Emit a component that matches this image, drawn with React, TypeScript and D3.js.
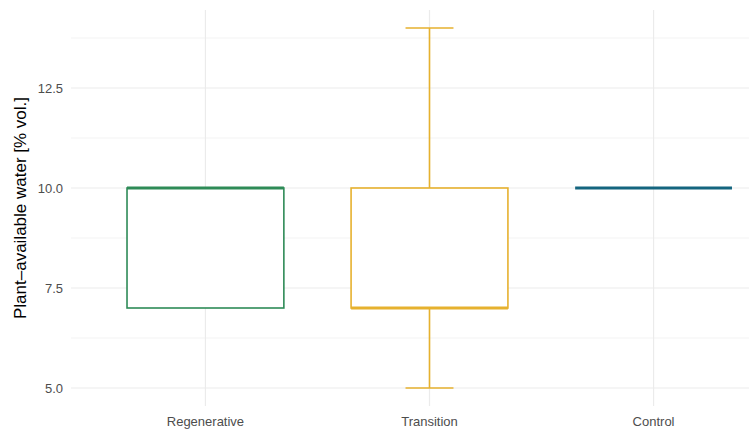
import React from "react";
import * as d3 from "d3";

// Box-plot summary per treatment
const categories = ["Regenerative", "Transition", "Control"];
const whiskerLow = [7, 5, 10];
const lowerQuartile = [7, 7, 10];
const medians = [10, 7, 10];
const upperQuartile = [10, 10, 10];
const whiskerHigh = [10, 14, 10];
const colors = ["#2E8B57", "#E6B12E", "#14657F"];
const yTicks = [5, 7.5, 10, 12.5];
const yMinorTicks = [6.25, 8.75, 11.25, 13.75];

const W = 749;
const H = 434;
const panel = { left: 71, top: 10, right: 788, bottom: 406 };

export default function App() {
  const x = d3
    .scalePoint<string>()
    .domain(categories)
    .range([panel.left, panel.right])
    .padding(0.6);
  const step = x.step();
  const dataMin = d3.min(whiskerLow)!;
  const dataMax = d3.max(whiskerHigh)!;
  const pad = (dataMax - dataMin) * 0.05;
  const y = d3
    .scaleLinear()
    .domain([dataMin - pad, dataMax + pad])
    .range([panel.bottom, panel.top]);

  const boxW = step * 0.7;
  const capW = step * 0.107;

  return (
    <svg
      width={W}
      height={H}
      style={{ position: "absolute", left: 0, top: 0, background: "#fff" }}
      fontFamily="'Liberation Sans', Arial, sans-serif"
    >
      <defs>
        <clipPath id="panel-clip">
          <rect x={panel.left} y={panel.top} width={W - panel.left} height={panel.bottom - panel.top} />
        </clipPath>
      </defs>
      <g clipPath="url(#panel-clip)">
        {yMinorTicks.map((t) => (
          <line key={"m" + t} x1={panel.left} x2={panel.right} y1={y(t)} y2={y(t)} stroke="#EBEBEB" strokeWidth={0.6} />
        ))}
        {yTicks.map((t) => (
          <line key={"t" + t} x1={panel.left} x2={panel.right} y1={y(t)} y2={y(t)} stroke="#EBEBEB" strokeWidth={1.2} />
        ))}
        {categories.map((c) => (
          <line key={"v" + c} x1={x(c)} x2={x(c)} y1={panel.top} y2={panel.bottom} stroke="#EBEBEB" strokeWidth={1.2} />
        ))}
        {categories.map((c, i) => {
          const cx = x(c)!;
          const col = colors[i];
          return (
            <g key={c} stroke={col} fill="none">
              {whiskerHigh[i] > upperQuartile[i] && (
                <>
                  <line x1={cx} x2={cx} y1={y(upperQuartile[i])} y2={y(whiskerHigh[i])} strokeWidth={1.6} />
                  <line x1={cx - capW} x2={cx + capW} y1={y(whiskerHigh[i])} y2={y(whiskerHigh[i])} strokeWidth={1.6} />
                </>
              )}
              {whiskerLow[i] < lowerQuartile[i] && (
                <>
                  <line x1={cx} x2={cx} y1={y(lowerQuartile[i])} y2={y(whiskerLow[i])} strokeWidth={1.6} />
                  <line x1={cx - capW} x2={cx + capW} y1={y(whiskerLow[i])} y2={y(whiskerLow[i])} strokeWidth={1.6} />
                </>
              )}
              <rect
                x={cx - boxW / 2}
                y={y(upperQuartile[i])}
                width={boxW}
                height={y(lowerQuartile[i]) - y(upperQuartile[i])}
                fill="#fff"
                strokeWidth={1.6}
              />
              <line
                x1={cx - boxW / 2}
                x2={cx + boxW / 2}
                y1={y(medians[i])}
                y2={y(medians[i])}
                strokeWidth={3.2}
                strokeLinecap="butt"
              />
            </g>
          );
        })}
      </g>
      {yTicks.map((t) => (
        <text key={"yl" + t} x={63} y={y(t)} dy="0.36em" textAnchor="end" fontSize={13} fill="#4D4D4D">
          {d3.format(".1f")(t)}
        </text>
      ))}
      {categories.map((c) => (
        <text key={"xl" + c} x={x(c)} y={426} textAnchor="middle" fontSize={13} fill="#4D4D4D">
          {c}
        </text>
      ))}
      <text
        transform={`translate(26,${(panel.top + panel.bottom) / 2}) rotate(-90)`}
        textAnchor="middle"
        fontSize={17}
        fill="#000"
      >
        Plant–available water [% vol.]
      </text>
    </svg>
  );
}
